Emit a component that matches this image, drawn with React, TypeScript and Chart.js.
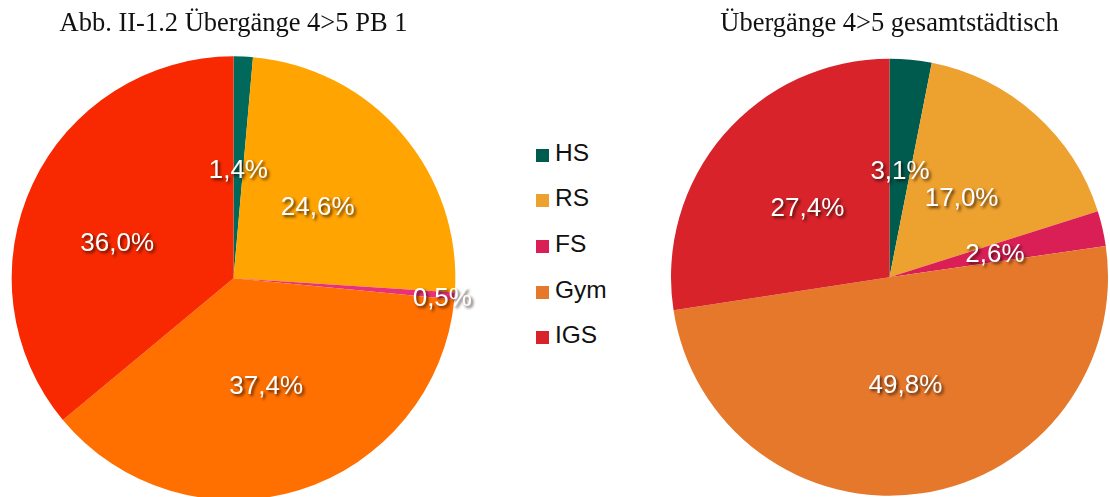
import React, { useEffect, useRef } from "react";
import { Chart, registerables } from "chart.js";

Chart.register(...registerables);

const categories = ["HS", "RS", "FS", "Gym", "IGS"];
const pb1Values = [1.4, 24.6, 0.5, 37.4, 36.0];
const cityValues = [3.1, 17.0, 2.6, 49.8, 27.4];
const pb1Title = "Abb. II-1.2 Übergänge 4>5 PB 1";
const cityTitle = "Übergänge 4>5 gesamtstädtisch";

const pb1Colors = ["#00695b", "#ffa400", "#e8307c", "#ff7000", "#f82900"];
const cityColors = ["#005b4f", "#eda12e", "#d91f56", "#e5782b", "#d8232a"];

const fmt = (v: number) => v.toFixed(1).replace(".", ",") + "%";

const labelPlugin = {
  id: "sliceLabels",
  afterDatasetsDraw(chart: any, _args: any, opts: any) {
    const ctx = chart.ctx;
    const meta = chart.getDatasetMeta(0);
    const data = chart.data.datasets[0].data as number[];
    const factors: number[] = opts.factors || [];
    const turns: number[] = opts.turns || [];
    const size: number = opts.size || 25;
    ctx.save();
    ctx.font = `${size}px "Liberation Sans", Arial, sans-serif`;
    ctx.textAlign = "center";
    ctx.textBaseline = "alphabetic";
    ctx.fillStyle = "#ffffff";
    ctx.shadowColor = "rgba(30,10,0,0.75)";
    ctx.shadowOffsetX = 2;
    ctx.shadowOffsetY = 2;
    ctx.shadowBlur = 3;
    meta.data.forEach((arc: any, i: number) => {
      const p = arc.getProps(["x", "y", "startAngle", "endAngle", "outerRadius"], true);
      const mid = (p.startAngle + p.endAngle) / 2 + ((turns[i] ?? 0) * Math.PI) / 180;
      const r = p.outerRadius * (factors[i] ?? 0.49);
      const x = p.x + Math.cos(mid) * r;
      const y = p.y + Math.sin(mid) * r;
      ctx.fillText(fmt(data[i]), x, y + size * 0.36);
    });
    ctx.restore();
  },
};

function PieChart(props: {
  values: number[];
  colors: string[];
  title: string;
  factors: number[];
  turns: number[];
  width: number;
  height: number;
  padTop: number;
  padBottom: number;
  padLeft: number;
  padRight: number;
  style: React.CSSProperties;
}) {
  const ref = useRef<HTMLCanvasElement | null>(null);
  useEffect(() => {
    if (!ref.current) return;
    const chart = new Chart(ref.current, {
      type: "pie",
      data: {
        labels: categories,
        datasets: [
          {
            data: props.values,
            backgroundColor: props.colors,
            borderWidth: 0,
          },
        ],
      },
      options: {
        responsive: false,
        animation: false,
        layout: { padding: { left: props.padLeft, right: props.padRight, top: 0, bottom: 0 } },
        plugins: {
          legend: { display: false },
          tooltip: { enabled: false },
          title: {
            display: true,
            text: props.title,
            color: "#111111",
            font: { family: '"Liberation Serif", "Times New Roman", serif', size: 26.5, weight: "normal", lineHeight: 1.2 },
            padding: { top: props.padTop, bottom: props.padBottom },
          },
          sliceLabels: { factors: props.factors, turns: props.turns, size: 26 },
        } as any,
      },
      plugins: [labelPlugin],
    });
    return () => chart.destroy();
  }, []);
  return <canvas ref={ref} width={props.width} height={props.height} style={props.style} />;
}

export default function App() {
  const legendTops = [153, 198, 244, 290, 335];
  return (
    <div>
      <PieChart
        values={pb1Values}
        colors={pb1Colors}
        title={pb1Title}
        factors={[0.495, 0.5, 0.945, 0.5, 0.55]}
        turns={[0, 0, 0.5, 0, -7.5]}
        width={490}
        height={500}
        padLeft={11}
        padRight={34}
        padTop={8}
        padBottom={16.5}
        style={{ position: "absolute", left: 0, top: 0, width: 490, height: 500 }}
      />
      <PieChart
        values={cityValues}
        colors={cityColors}
        title={cityTitle}
        factors={[0.495, 0.495, 0.495, 0.495, 0.495]}
        turns={[0, 0, 0, 0, 0]}
        width={437}
        height={496}
        padLeft={0}
        padRight={0}
        padTop={8}
        padBottom={18.5}
        style={{ position: "absolute", left: 671, top: 0, width: 437, height: 496 }}
      />
      {categories.map((c, i) => (
        <div
          key={c}
          style={{
            position: "absolute",
            left: 536,
            top: legendTops[i] - 14,
            height: 28,
            display: "flex",
            alignItems: "center",
            fontFamily: '"Liberation Sans", Arial, sans-serif',
            fontSize: 24.5,
            color: "#111111",
            whiteSpace: "nowrap",
          }}
        >
          <span
            style={{
              display: "inline-block",
              width: 13,
              height: 13,
              background: cityColors[i],
              marginRight: 6,
              marginTop: 4,
            }}
          />
          <span>{c}</span>
        </div>
      ))}
    </div>
  );
}
